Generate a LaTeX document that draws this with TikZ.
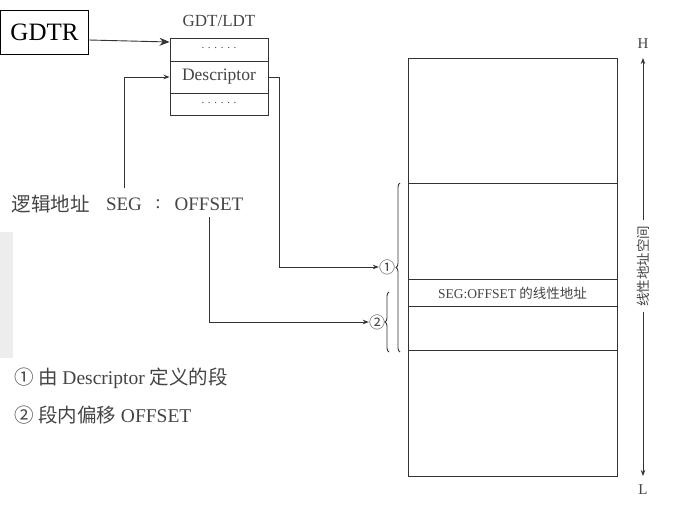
\documentclass[tikz,border=0pt]{standalone}
\usepackage{fontspec}
\setmainfont{Liberation Serif}
\newfontfamily\cjk{Noto Sans CJK SC}
\usetikzlibrary{arrows.meta,decorations.pathreplacing}
\definecolor{ink}{HTML}{333333}
\definecolor{txt}{HTML}{444444}
\newcommand{\rowdots}{\makebox[35pt]{.\hfill.\hfill.\hfill.\hfill.\hfill.}}
\begin{document}
\begin{tikzpicture}[x=1pt,y=-1pt,
  line/.style={draw=ink, line width=0.9pt},
  arr/.style={line, -{Stealth[length=6pt,width=4.5pt]}},
  row/.style={draw=ink, line width=0.9pt, minimum width=98pt, inner sep=0pt, text=txt},
  lbl/.style={inner sep=0pt, text=txt, font=\fontsize{19}{21}\selectfont},
  small/.style={inner sep=0pt, text=txt, font=\fontsize{13}{15}\selectfont}
]
\useasboundingbox (0,0) rectangle (699,528);
\fill[black!7] (0,232) rectangle (13,358);

% GDTR
\node[draw=black, line width=0.9pt, minimum width=88pt, minimum height=44pt, inner sep=0pt,
      font=\fontsize{25}{27}\selectfont] (gdtr) at (44.5,32) {GDTR};

% GDT/LDT table
\node[lbl, font=\fontsize{17}{19}\selectfont] (title) at (219,21) {GDT/LDT};
\node[row, minimum height=23pt, font=\fontsize{11}{13}\selectfont] (r1) at (219,49.5) {\raisebox{3pt}{\rowdots}};
\node[row, minimum height=32pt, font=\fontsize{17.5}{19}\selectfont] (r2) at (219,77) {Descriptor};
\node[row, minimum height=22pt, font=\fontsize{11}{13}\selectfont] (r3) at (219,104) {\raisebox{3pt}{\rowdots}};

\draw[line, -{Stealth[length=10pt,width=8pt]}] ([yshift=-8pt]gdtr.east) -- ([yshift=7.5pt]r1.west);

% logical address
\node[lbl, font=\fontsize{19.5}{21}\selectfont\cjk] (la) at (51,204) {逻辑地址};
\node[lbl] (seg) at (124,204) {SEG};
\node[lbl] (colon) at (158,204) {:};
\node[lbl] (off) at (209,204) {OFFSET};

\draw[arr] ([yshift=9pt]seg.north) |- (r2.west);

% braces and markers
\node[inner sep=0pt, text=txt, font=\fontsize{16}{18}\selectfont\cjk] (c1) at (387,267) {①};
\node[inner sep=0pt, text=txt, font=\fontsize{16}{18}\selectfont\cjk] (c2) at (377,322) {②};
\draw[line, decorate, decoration={brace, amplitude=4pt}] (400,352) -- (400,183);
\draw[line, decorate, decoration={brace, amplitude=4pt}] (389,352) -- (389,292);

\coordinate (k1) at (279,77);
\draw[arr] (r2.east) -- (k1) |- (c1.west);
\draw[arr] ([yshift=-6pt]off.south) |- (c2.west);

% linear address space
\node[line, minimum width=209pt, minimum height=418pt, inner sep=0pt] (space) at (512.5,267) {};
\draw[line] (408,183) -- (617,183);
\draw[line] (408,279) -- (617,279);
\draw[line] (408,306) -- (617,306);
\draw[line] (408,350) -- (617,350);
\node[small, font=\fontsize{13.5}{15}\selectfont] (band) at (512.5,293) {SEG:OFFSET {\cjk 的线性地址}};

% axis
\node[small, font=\fontsize{15}{17}\selectfont] (H) at (643,44) {H};
\node[small, font=\fontsize{15}{17}\selectfont] (L) at (643,490) {L};
\node[small, rotate=90, inner xsep=5pt, font=\fontsize{13.5}{15}\selectfont\cjk] (vt) at (643,266) {线性地址空间};
\coordinate (htip) at (643,58);
\coordinate (ltip) at (643,476);
\draw[arr] (vt.east) -- (htip);
\draw[arr] (vt.west) -- (ltip);

% legend
\node[lbl, anchor=west, font=\fontsize{19.5}{21}\selectfont] (leg1) at (14,378) {{\cjk ① 由} Descriptor {\cjk 定义的段}};
\node[lbl, anchor=west, font=\fontsize{19.5}{21}\selectfont] (leg2) at (14,415) {{\cjk ② 段内偏移} OFFSET};
\end{tikzpicture}
\end{document}
